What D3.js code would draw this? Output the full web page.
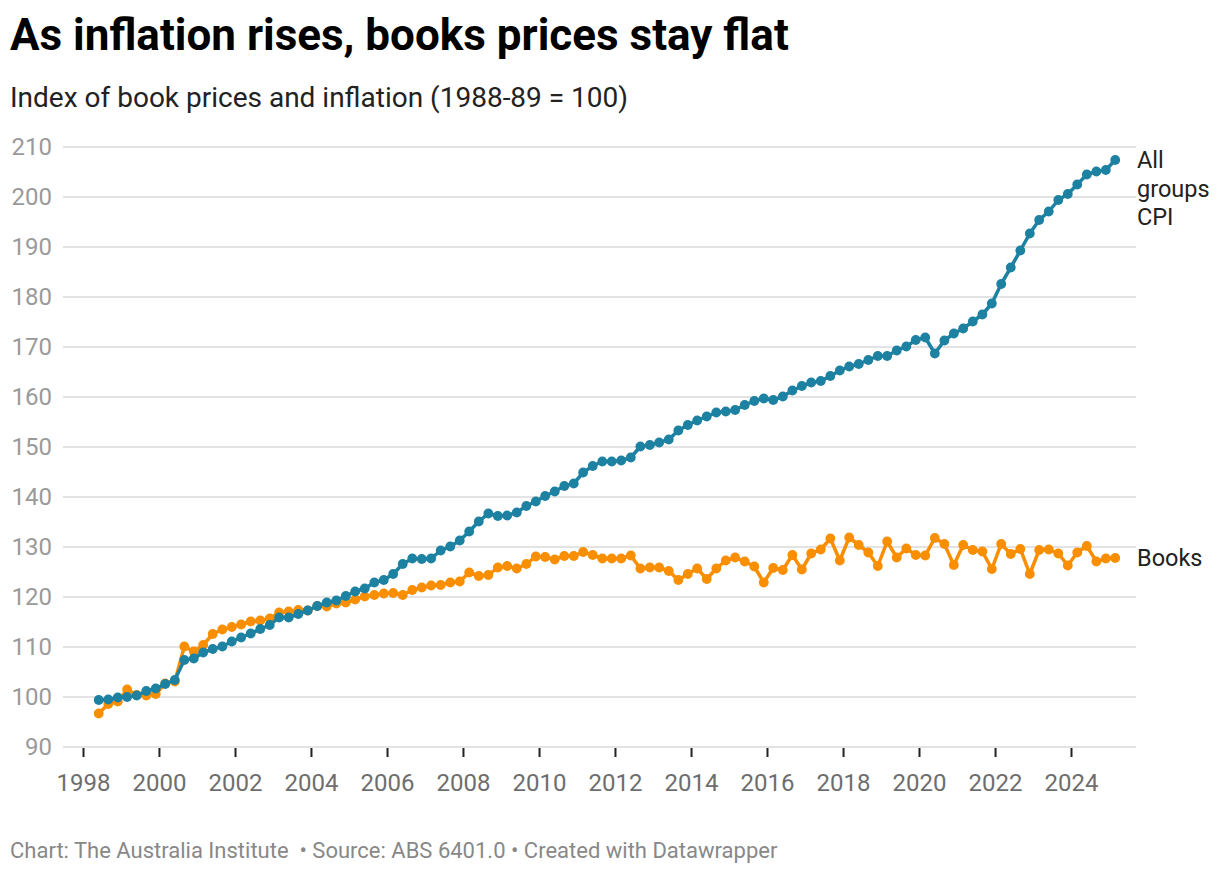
<!DOCTYPE html>
<html>
<head>
<meta charset="utf-8">
<script src="https://cdn.jsdelivr.net/npm/d3@7"></script>
<style>
  body { margin: 0; background: #fff; }
  text { font-family: Roboto, "Noto Sans", sans-serif; }
</style>
</head>
<body>
<div id="chart"></div>
<script>
// quarterly index values, Jun 1998 .. Mar 2025
var cpi = [
  99.4, 99.5, 99.9, 100.0, 100.3, 101.2, 101.7, 102.6, 103.4, 107.4, 107.7, 108.9,
  109.6, 110.1, 111.1, 111.9, 112.7, 113.6, 114.4, 115.9, 115.9, 116.6, 117.3, 118.2,
  118.9, 119.3, 120.2, 121.1, 121.7, 122.9, 123.4, 124.6, 126.6, 127.7, 127.6, 127.7,
  129.3, 130.1, 131.3, 133.1, 135.1, 136.7, 136.2, 136.3, 136.9, 138.2, 139.1, 140.2,
  141.1, 142.2, 142.7, 144.9, 146.2, 147.1, 147.1, 147.3, 147.9, 150.1, 150.4, 150.9,
  151.5, 153.3, 154.4, 155.3, 156.1, 156.9, 157.1, 157.4, 158.4, 159.2, 159.7, 159.4,
  160.1, 161.3, 162.2, 162.9, 163.2, 164.2, 165.3, 166.1, 166.6, 167.4, 168.2, 168.2,
  169.3, 170.1, 171.4, 171.9, 168.7, 171.3, 172.7, 173.7, 175.1, 176.5, 178.7, 182.6,
  185.9, 189.3, 192.7, 195.4, 197.1, 199.4, 200.6, 202.5, 204.5, 205.1, 205.4, 207.4
];
var books = [
  96.7, 98.6, 99.1, 101.5, 100.4, 100.3, 100.6, 102.7, 103.1, 110.1, 109.1, 110.4,
  112.6, 113.5, 114.0, 114.5, 115.1, 115.3, 115.7, 116.9, 117.1, 117.4, 117.3, 118.2,
  118.1, 118.7, 118.9, 119.5, 120.1, 120.4, 120.7, 120.8, 120.4, 121.4, 121.9, 122.3,
  122.4, 122.9, 123.1, 124.9, 124.2, 124.4, 125.9, 126.2, 125.7, 126.6, 128.1, 128.0,
  127.5, 128.2, 128.2, 129.0, 128.4, 127.7, 127.7, 127.7, 128.3, 125.7, 125.9, 125.9,
  125.2, 123.4, 124.6, 125.7, 123.6, 125.7, 127.3, 127.9, 127.1, 126.1, 122.9, 125.8,
  125.4, 128.4, 125.5, 128.7, 129.5, 131.7, 127.3, 131.9, 130.4, 128.9, 126.2, 131.1,
  127.9, 129.7, 128.4, 128.3, 131.8, 130.6, 126.4, 130.4, 129.4, 129.1, 125.6, 130.6,
  128.6, 129.6, 124.6, 129.4, 129.5, 128.7, 126.3, 128.9, 130.2, 127.1, 127.7, 127.8
];
var yTicks = [90, 100, 110, 120, 130, 140, 150, 160, 170, 180, 190, 200, 210];
var xTickYears = [1998, 2000, 2002, 2004, 2006, 2008, 2010, 2012, 2014, 2016, 2018, 2020, 2022, 2024];

// quarter dates Jun 1998 .. Mar 2025
var quarters = d3.timeMonth.range(new Date(1998, 5, 1), new Date(2025, 3, 1), 3);

var W = 1220, H = 874;
var blue = "#1d81a2", orange = "#f98e00";

var svg = d3.select("#chart").append("svg")
  .attr("width", W).attr("height", H);

var x = d3.scaleTime()
  .domain([new Date(1998, 0, 1), new Date(2024, 0, 1)])
  .range([83, 1071]);
var y = d3.scaleLinear().domain([90, 210]).range([747, 147]);

// title + subtitle
svg.append("text").attr("x", 10).attr("y", 50)
  .style("font-size", "44px").style("font-weight", "bold").style("fill", "#000")
  .text("As inflation rises, books prices stay flat");
svg.append("text").attr("x", 10).attr("y", 107)
  .style("font-size", "28px").style("fill", "#222")
  .text("Index of book prices and inflation (1988-89 = 100)");

// grid + y labels
var grid = svg.append("g");
grid.selectAll("line").data(yTicks).enter().append("line")
  .attr("x1", 63).attr("x2", 1136)
  .attr("y1", function(d) { return y(d); })
  .attr("y2", function(d) { return y(d); })
  .style("stroke", "#e3e3e3").style("stroke-width", 2);
grid.selectAll("text").data(yTicks).enter().append("text")
  .attr("x", 52).attr("y", function(d) { return y(d); })
  .attr("dy", "0.35em").attr("text-anchor", "end")
  .style("font-size", "24px").style("fill", "#9a9a9a")
  .text(function(d) { return d; });

// x axis
var xAxis = d3.axisBottom(x)
  .tickValues(xTickYears.map(function(d) { return new Date(d, 0, 1); }))
  .tickFormat(d3.timeFormat("%Y"))
  .tickSize(9).tickPadding(17);
var gx = svg.append("g").attr("transform", "translate(0,748)").call(xAxis);
gx.select(".domain").remove();
gx.selectAll(".tick line").style("stroke", "#222").style("stroke-width", 2);
gx.selectAll(".tick text").style("font-size", "24px").style("fill", "#6e6e6e")
  .style("font-family", "Roboto, sans-serif");

// lines
var line = d3.line()
  .x(function(d, i) { return x(quarters[i]); })
  .y(function(d) { return y(d); });

function drawSeries(vals, col) {
  var g = svg.append("g");
  g.append("path").datum(vals)
    .attr("d", line)
    .style("fill", "none").style("stroke", col)
    .style("stroke-width", 3.5).style("stroke-linejoin", "round");
  g.selectAll("circle").data(vals).enter().append("circle")
    .attr("cx", function(d, i) { return x(quarters[i]); })
    .attr("cy", function(d) { return y(d); })
    .attr("r", 4.9)
    .style("fill", col);
}
drawSeries(books, orange);
drawSeries(cpi, blue);

// line labels
var lab = svg.append("text").attr("x", 1137).attr("y", 168)
  .style("font-size", "23.5px").style("fill", "#222");
["All", "groups", "CPI"].forEach(function(t, i) {
  lab.append("tspan").attr("x", 1137).attr("dy", i ? 28.5 : 0).text(t);
});
svg.append("text").attr("x", 1137).attr("y", y(books[books.length - 1]))
  .attr("dy", "0.35em")
  .style("font-size", "23.5px").style("fill", "#222")
  .text("Books");

// footer
svg.append("text").attr("x", 10).attr("y", 858)
  .style("font-size", "22px").style("fill", "#888")
  .attr("xml:space", "preserve")
  .text("Chart: The Australia Institute  \u2022 Source: ABS 6401.0 \u2022 Created with Datawrapper");
</script>
</body>
</html>
